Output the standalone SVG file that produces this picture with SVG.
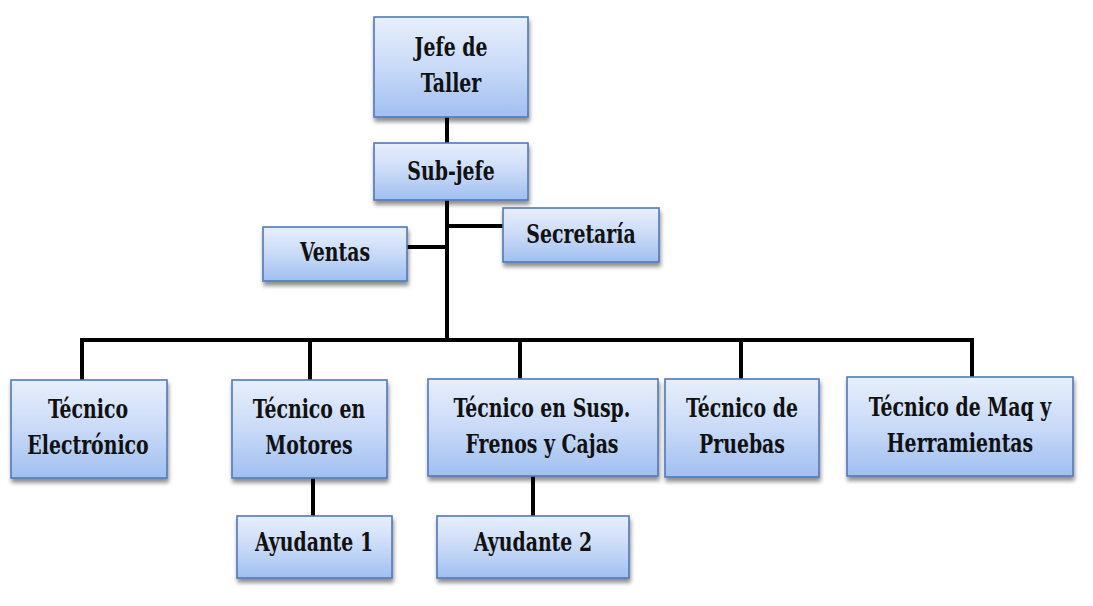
<svg xmlns="http://www.w3.org/2000/svg" width="1093" height="606" viewBox="0 0 1093 606">
<defs>
<linearGradient id="g" x1="0" y1="0" x2="0" y2="1">
<stop offset="0" stop-color="#e8effc"/>
<stop offset="0.5" stop-color="#c9daf8"/>
<stop offset="1" stop-color="#a0bff0"/>
</linearGradient>
<filter id="sh" x="-10%" y="-10%" width="125%" height="135%">
<feGaussianBlur in="SourceAlpha" stdDeviation="2"/>
<feOffset dx="1" dy="4" result="b"/>
<feComponentTransfer><feFuncA type="linear" slope="0.45"/></feComponentTransfer>
<feMerge><feMergeNode/><feMergeNode in="SourceGraphic"/></feMerge>
</filter>
</defs>
<style>
.box{fill:url(#g);stroke:#5079bb;stroke-width:1.6;filter:url(#sh)}
.t{font-family:'DejaVu Serif',serif;font-stretch:condensed;font-weight:700;font-size:21px;fill:#111;text-anchor:middle}
.c{fill:none;stroke:#000;stroke-width:4;stroke-linejoin:miter;stroke-linecap:butt}
</style>
<rect width="1093" height="606" fill="#fff"/>
<g id="connectors">
<path class="c" d="M447,117V143"/>
<path class="c" d="M447,200V342"/>
<path class="c" d="M447,226H503"/>
<path class="c" d="M407,247H447"/>
<path class="c" d="M82,380V340H972V377"/>
<path class="c" d="M310,340V380"/>
<path class="c" d="M520,340V379"/>
<path class="c" d="M741,340V379"/>
<path class="c" d="M313,478V516"/>
<path class="c" d="M533,476V516"/>
</g>
<g id="jefe"><rect class="box" x="374" y="17" width="154" height="100"/>
<text class="t" transform="translate(451,56) scale(1,1.22)"><tspan x="0">Jefe de</tspan><tspan x="0" dy="29.5">Taller</tspan></text></g>
<g id="subjefe"><rect class="box" x="374" y="143" width="154" height="57"/>
<text class="t" transform="translate(451,180) scale(1,1.22)">Sub-jefe</text></g>
<g id="secretaria"><rect class="box" x="503" y="208" width="156" height="54"/>
<text class="t" transform="translate(581,243) scale(1,1.22)">Secretaría</text></g>
<g id="ventas"><rect class="box" x="263" y="227" width="144" height="54"/>
<text class="t" transform="translate(335,261) scale(1,1.22)">Ventas</text></g>
<g id="electronico"><rect class="box" x="11" y="380" width="156" height="98"/>
<text class="t" transform="translate(88,418) scale(1,1.22)"><tspan x="0">Técnico</tspan><tspan x="0" dy="29.5">Electrónico</tspan></text></g>
<g id="motores"><rect class="box" x="232" y="380" width="155" height="98"/>
<text class="t" transform="translate(309,418) scale(1,1.22)"><tspan x="0">Técnico en</tspan><tspan x="0" dy="29.5">Motores</tspan></text></g>
<g id="susp"><rect class="box" x="428" y="379" width="230" height="97"/>
<text class="t" transform="translate(542,417) scale(1,1.22)"><tspan x="0">Técnico en Susp.</tspan><tspan x="0" dy="29.5">Frenos y Cajas</tspan></text></g>
<g id="pruebas"><rect class="box" x="665" y="379" width="154" height="98"/>
<text class="t" transform="translate(742,417) scale(1,1.22)"><tspan x="0">Técnico de</tspan><tspan x="0" dy="29.5">Pruebas</tspan></text></g>
<g id="maq"><rect class="box" x="847" y="377" width="226" height="99"/>
<text class="t" transform="translate(960,416) scale(1,1.22)"><tspan x="0">Técnico de Maq y</tspan><tspan x="0" dy="29.5">Herramientas</tspan></text></g>
<g id="ayudante1"><rect class="box" x="237" y="516" width="155" height="62"/>
<text class="t" transform="translate(314,551) scale(1,1.22)">Ayudante 1</text></g>
<g id="ayudante2"><rect class="box" x="437" y="516" width="192" height="62"/>
<text class="t" transform="translate(533,551) scale(1,1.22)">Ayudante 2</text></g>
</svg>
